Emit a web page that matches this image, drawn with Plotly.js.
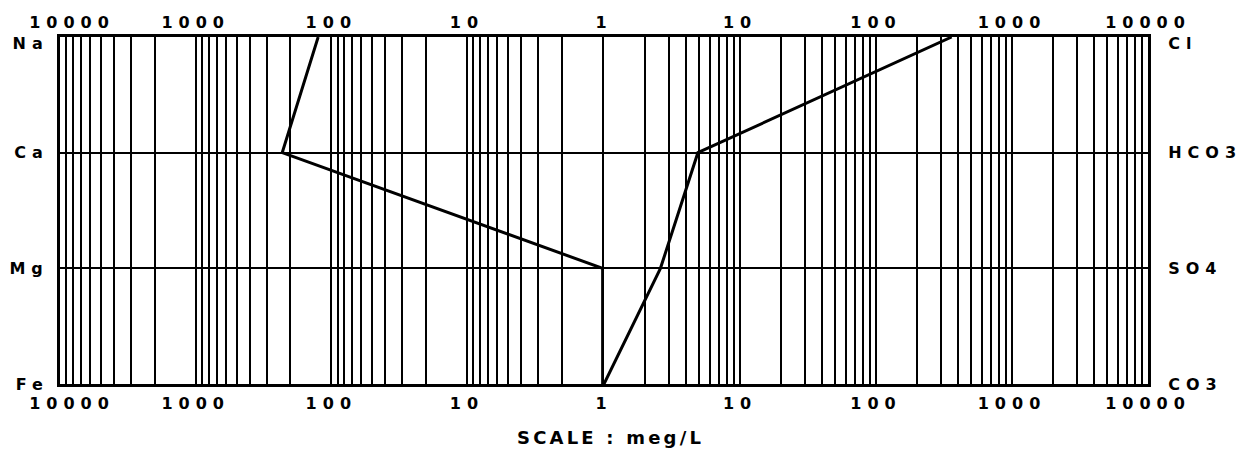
<!DOCTYPE html>
<html>
<head>
<meta charset="utf-8">
<script src="https://cdn.plot.ly/plotly-3.0.1.min.js"></script>
<style>
  html, body { margin: 0; padding: 0; background: #fff; }
  #chart { width: 1244px; height: 468px; }
  .xtick text, .x2tick text, .x3tick text, .x4tick text, .ytick text, .y2tick text {
    letter-spacing: 6px; font-weight: 700 !important;
  }
  .annotation-text { letter-spacing: 3.2px; font-weight: 700 !important; }
  /* top-row side labels sit a little below the top border, as in the original */
  .ytick:last-of-type, .y2tick:last-of-type { transform: translateY(6px); }
  /* outer-left 10000 labels are nudged inward in the original */
  .xtick:last-of-type, .x3tick:last-of-type { transform: translateX(12px); }
</style>
</head>
<body>
<div id="chart"></div>
<script>
// ---- data ----
const cations = ['Na', 'Ca', 'Mg', 'Fe'];
const cationValues = [125, 230, 1, 1];
const anions = ['Cl', 'HCO3', 'SO4', 'CO3'];
const anionValues = [360, 4.9, 2.6, 1];
const decadeValues = [1, 10, 100, 1000, 10000];
const decadeLabels = ['1', '10', '100', '1000', '10000'];
const mantissas = [1, 2, 3, 4, 5, 6, 7, 8, 9];
const scaleTitle = 'SCALE : meg/L';

// ---- tick arrays (grid at every 1..9 x 10^k) ----
function buildTicks(showOne) {
  const vals = [], txt = [];
  for (let k = 0; k < 4; k++) {
    mantissas.forEach(m => {
      const v = m * Math.pow(10, k);
      vals.push(v);
      const di = decadeValues.indexOf(v);
      txt.push(di >= 0 && (v !== 1 || showOne) ? decadeLabels[di] : '');
    });
  }
  vals.push(10000); txt.push('10000');
  return {vals, txt};
}
const leftTicks = buildTicks(false);
const rightTicks = buildTicks(true);

const FAMILY = 'DejaVu Sans, Liberation Sans, Arial, sans-serif';
const FONT = {family: FAMILY, size: 16, color: '#000', weight: 700};
const LINE = {color: '#000', width: 3};
const HIDDEN = {color: 'rgba(0,0,0,0)', width: 0};

const traces = [
  {x: cationValues, y: cations, xaxis: 'x', yaxis: 'y', type: 'scatter', mode: 'lines',
   line: LINE, hoverinfo: 'skip', showlegend: false},
  {x: anionValues, y: anions, xaxis: 'x2', yaxis: 'y2', type: 'scatter', mode: 'lines',
   line: LINE, hoverinfo: 'skip', showlegend: false},
  // carriers for the top tick-label axes (not visible)
  {x: cationValues, y: cations, xaxis: 'x3', yaxis: 'y', type: 'scatter', mode: 'lines',
   line: HIDDEN, hoverinfo: 'skip', showlegend: false},
  {x: anionValues, y: anions, xaxis: 'x4', yaxis: 'y2', type: 'scatter', mode: 'lines',
   line: HIDDEN, hoverinfo: 'skip', showlegend: false}
];

const gridCommon = {showgrid: true, gridcolor: '#000', gridwidth: 2, zeroline: false, ticks: '',
  tickfont: FONT, showline: true, linecolor: '#000', linewidth: 3};
const LEFT_RANGE = [4, -0.01];
const RIGHT_RANGE = [0, 4];

const layout = {
  width: 1244, height: 468,
  margin: {l: 60, r: 96, t: 37, b: 84},
  paper_bgcolor: '#fff', plot_bgcolor: '#fff',
  showlegend: false,
  xaxis: Object.assign({}, gridCommon, {type: 'log', range: LEFT_RANGE, domain: [0, 0.5], anchor: 'y',
    tickmode: 'array', tickvals: leftTicks.vals, ticktext: leftTicks.txt, mirror: true, ticklabelstandoff: 3}),
  xaxis2: Object.assign({}, gridCommon, {type: 'log', range: RIGHT_RANGE, domain: [0.5, 1], anchor: 'y2',
    tickmode: 'array', tickvals: rightTicks.vals, ticktext: rightTicks.txt, mirror: true, ticklabelstandoff: 3}),
  xaxis3: {type: 'log', range: LEFT_RANGE, overlaying: 'x', side: 'top', anchor: 'y', showgrid: false, zeroline: false,
    ticks: '', tickfont: FONT, tickmode: 'array', tickvals: leftTicks.vals, ticktext: leftTicks.txt, showline: false, ticklabelstandoff: 5},
  xaxis4: {type: 'log', range: RIGHT_RANGE, overlaying: 'x2', side: 'top', anchor: 'y2', showgrid: false, zeroline: false,
    ticks: '', tickfont: FONT, tickmode: 'array', tickvals: rightTicks.vals, ticktext: rightTicks.txt, showline: false, ticklabelstandoff: 5},
  yaxis: Object.assign({}, gridCommon, {type: 'category', categoryorder: 'array', categoryarray: cations.slice().reverse(),
    range: [0, 3], domain: [0, 1], anchor: 'x', side: 'left', ticklabelstandoff: 5}),
  yaxis2: Object.assign({}, gridCommon, {type: 'category', categoryorder: 'array', categoryarray: anions.slice().reverse(),
    range: [0, 3], domain: [0, 1], anchor: 'x2', side: 'right', ticklabelstandoff: 14}),
  annotations: [{text: scaleTitle, xref: 'paper', yref: 'paper', x: 0.506, y: -0.153,
    xanchor: 'center', yanchor: 'middle', showarrow: false,
    font: {family: FAMILY, size: 18, color: '#000', weight: 700}}]
};

Plotly.newPlot('chart', traces, layout, {staticPlot: true, displayModeBar: false});
</script>
</body>
</html>
